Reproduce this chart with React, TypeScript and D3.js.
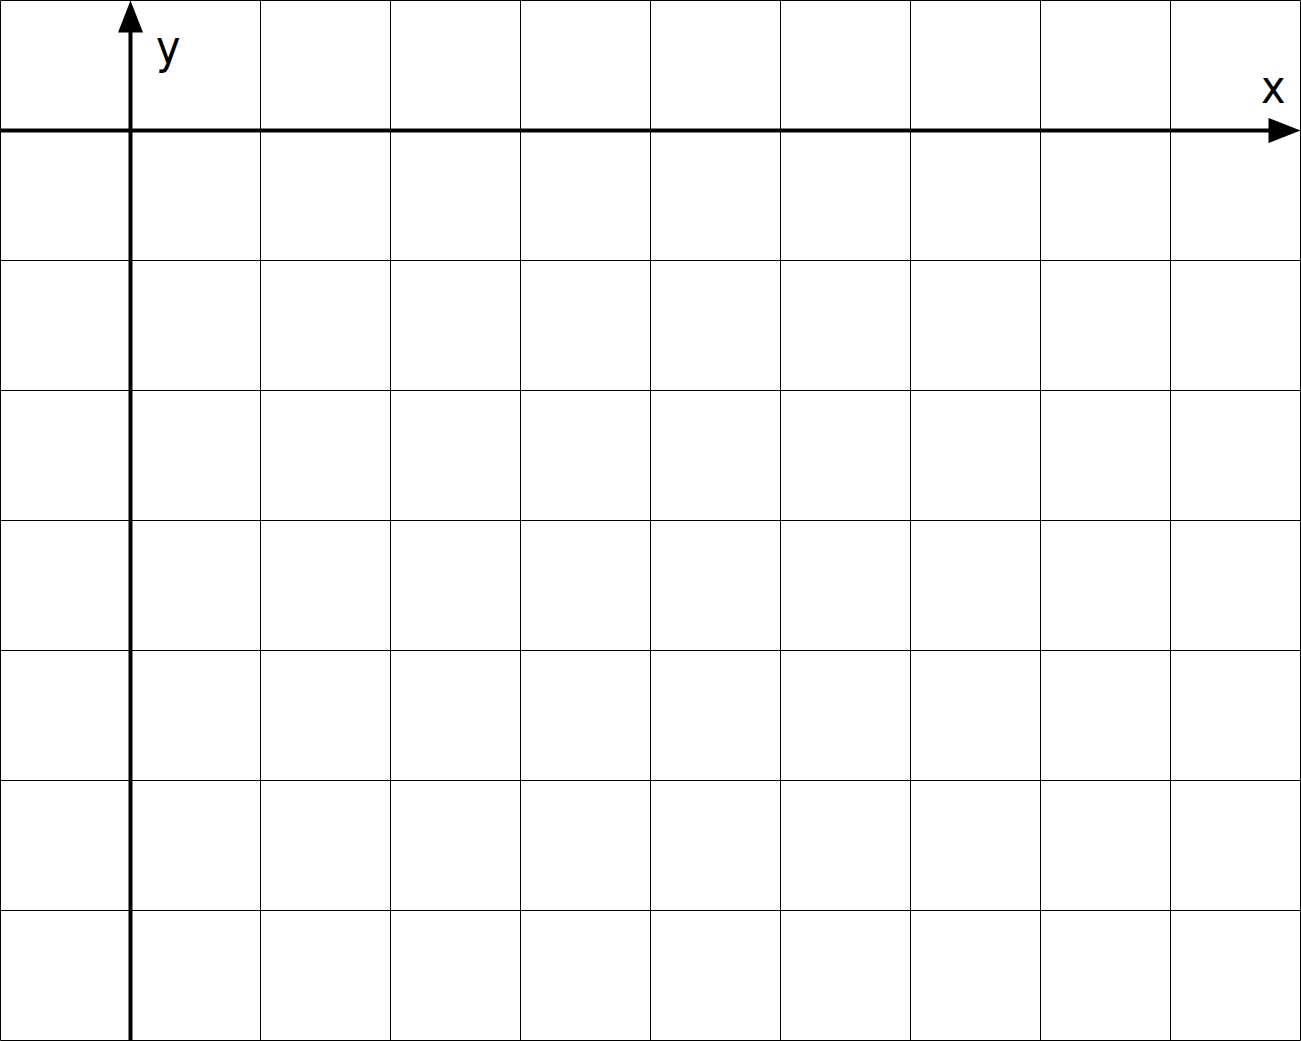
import React from 'react';
import * as d3 from 'd3';

// grid positions in axis units
const xTicks = [-1, 0, 1, 2, 3, 4, 5, 6, 7, 8, 9];
const yTicks = [1, 0, -1, -2, -3, -4, -5, -6, -7];
const xLabel = 'x';
const yLabel = 'y';

const width = 1301;
const height = 1041;
const labelFont = "'DejaVu Sans Condensed', 'Liberation Sans', Arial, sans-serif";

export default function App() {
  const x = d3.scaleLinear().domain([-1, 9]).range([0.5, 1300.5]);
  const y = d3.scaleLinear().domain([1, -7]).range([0.5, 1040.5]);

  const x0 = x(0);
  const y0 = y(0);
  const xEnd = x(9);
  const yTop = y(1);

  const upArrow = d3.line()([
    [x0, yTop],
    [x0 - 12.5, yTop + 32],
    [x0 + 12.5, yTop + 32],
  ]) + 'Z';
  const rightArrow = d3.line()([
    [xEnd, y0],
    [xEnd - 32, y0 - 12.5],
    [xEnd - 32, y0 + 12.5],
  ]) + 'Z';

  return (
    <div style={{ position: 'absolute', left: 0, top: 0 }}>
      <svg width={width} height={height} style={{ display: 'block', background: '#fff' }}>
        <g stroke="#000" strokeWidth={1}>
          {xTicks.map(t => (
            <line key={'vx' + t} x1={x(t)} x2={x(t)} y1={y(1)} y2={y(-7)} />
          ))}
          {yTicks.map(t => (
            <line key={'hy' + t} x1={x(-1)} x2={x(9)} y1={y(t)} y2={y(t)} />
          ))}
        </g>
        <line x1={x(-1)} x2={xEnd - 28} y1={y0} y2={y0} stroke="#000" strokeWidth={4} />
        <line x1={x0} x2={x0} y1={y(-7)} y2={yTop + 28} stroke="#000" strokeWidth={4} />
        <path d={upArrow} fill="#000" />
        <path d={rightArrow} fill="#000" />
        <text x={156} y={63} fontFamily={labelFont} fontSize={46} fill="#000">
          {yLabel}
        </text>
        <text x={1261} y={103} fontFamily={labelFont} fontSize={46} fill="#000">
          {xLabel}
        </text>
      </svg>
    </div>
  );
}
